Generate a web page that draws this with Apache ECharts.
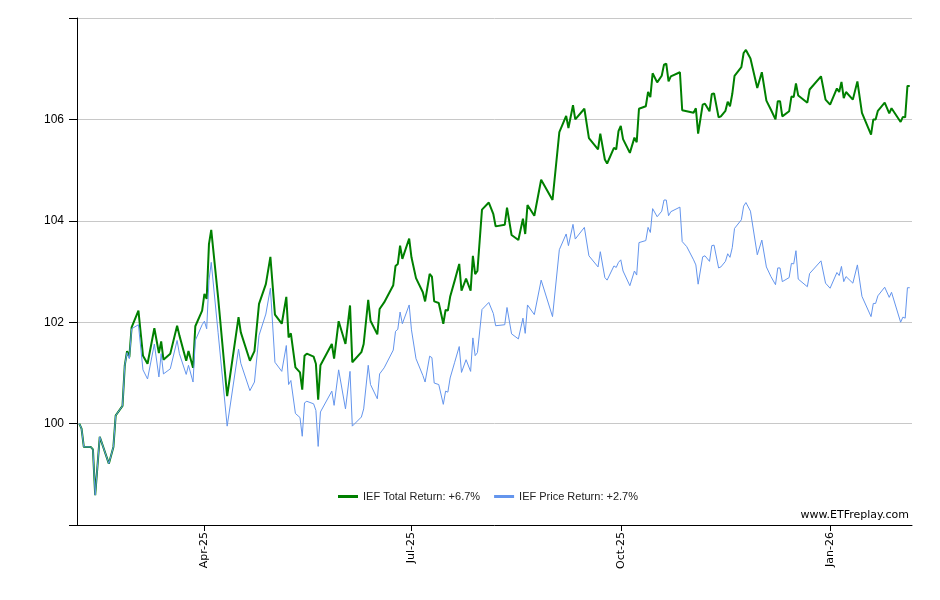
<!DOCTYPE html>
<html>
    <head>
        <meta charset="utf-8">
        <script src="https://cdn.jsdelivr.net/npm/echarts@6/dist/echarts.min.js"></script>
        <title>IEF Total Return vs Price Return</title>
        <style>
            html, body { margin: 0; padding: 0; background: #fff; }
            #main { width: 940px; height: 600px; }
        </style>
    </head>
    <body>
        <div id="main"></div>
        <script type="text/javascript">
            // values (growth of 100)
            var dates = [
                '2025-02-05','2025-02-06','2025-02-07','2025-02-10','2025-02-11','2025-02-12','2025-02-14','2025-02-18','2025-02-20','2025-02-21',
                '2025-02-24','2025-02-25','2025-02-26','2025-02-27','2025-02-28','2025-03-03','2025-03-05','2025-03-07','2025-03-10','2025-03-12',
                '2025-03-13','2025-03-14','2025-03-17','2025-03-20','2025-03-21','2025-03-24','2025-03-25','2025-03-27','2025-03-28','2025-03-31',
                '2025-04-01','2025-04-02','2025-04-03','2025-04-04','2025-04-07','2025-04-11','2025-04-16','2025-04-17','2025-04-21','2025-04-23',
                '2025-04-25','2025-04-28','2025-04-30','2025-05-02','2025-05-05','2025-05-07','2025-05-08','2025-05-09','2025-05-11','2025-05-13',
                '2025-05-14','2025-05-15','2025-05-16','2025-05-19','2025-05-20','2025-05-21','2025-05-22','2025-05-27','2025-05-28','2025-05-30',
                '2025-06-02','2025-06-04','2025-06-05','2025-06-09','2025-06-10','2025-06-12','2025-06-13','2025-06-16','2025-06-17','2025-06-19',
                '2025-06-23','2025-06-24','2025-06-25','2025-06-26','2025-06-27','2025-06-30','2025-07-01','2025-07-03','2025-07-06','2025-07-07',
                '2025-07-09','2025-07-10','2025-07-11','2025-07-13','2025-07-15','2025-07-16','2025-07-17','2025-07-18','2025-07-20','2025-07-22',
                '2025-07-23','2025-07-25','2025-07-27','2025-07-28','2025-07-29','2025-07-30','2025-08-01','2025-08-04','2025-08-06','2025-08-07',
                '2025-08-11','2025-08-12','2025-08-14','2025-08-17','2025-08-19','2025-08-20','2025-08-21','2025-08-24','2025-08-27','2025-09-01',
                '2025-09-04','2025-09-07','2025-09-08','2025-09-10','2025-09-11','2025-09-15','2025-09-17','2025-09-21','2025-09-22','2025-09-24',
                '2025-09-25','2025-09-28','2025-09-29','2025-09-30','2025-10-01','2025-10-02','2025-10-05','2025-10-07','2025-10-08','2025-10-09',
                '2025-10-12','2025-10-13','2025-10-14','2025-10-15','2025-10-17','2025-10-19','2025-10-20','2025-10-21','2025-10-22','2025-10-23',
                '2025-10-27','2025-10-28','2025-10-30','2025-11-02','2025-11-03','2025-11-04','2025-11-06','2025-11-07','2025-11-09','2025-11-10',
                '2025-11-11','2025-11-13','2025-11-14','2025-11-16','2025-11-17','2025-11-18','2025-11-19','2025-11-20','2025-11-23','2025-11-24',
                '2025-11-25','2025-11-27','2025-11-30','2025-12-02','2025-12-04','2025-12-06','2025-12-08','2025-12-09','2025-12-10','2025-12-11',
                '2025-12-14','2025-12-15','2025-12-16','2025-12-17','2025-12-18','2025-12-22','2025-12-23','2025-12-28','2025-12-30','2026-01-01',
                '2026-01-04','2026-01-05','2026-01-06','2026-01-07','2026-01-08','2026-01-11','2026-01-13','2026-01-15','2026-01-19','2026-01-20',
                '2026-01-21','2026-01-22','2026-01-25','2026-01-27','2026-01-28','2026-02-01','2026-02-02','2026-02-03','2026-02-04','2026-02-05'
            ];
            var totalReturn = [
                100.00, 99.90, 99.54, 99.54, 99.49, 98.59, 99.74, 99.21, 99.54, 100.16,
                100.35, 101.15, 101.43, 101.31, 101.90, 102.23, 101.34, 101.18, 101.88, 101.39,
                101.62, 101.26, 101.38, 101.93, 101.74, 101.24, 101.43, 101.10, 101.92, 102.23,
                102.56, 102.46, 103.54, 103.82, 102.50, 100.54, 102.10, 101.80, 101.24, 101.43,
                102.36, 102.75, 103.29, 102.15, 101.97, 102.50, 101.70, 101.78, 101.11, 101.01,
                100.67, 101.34, 101.38, 101.32, 101.18, 100.47, 101.15, 101.57, 101.28, 102.02,
                101.57, 102.33, 101.21, 101.41, 101.57, 102.44, 102.03, 101.76, 102.26, 102.39,
                102.73, 103.11, 103.15, 103.51, 103.25, 103.65, 103.28, 102.87, 102.59, 102.41,
                102.95, 102.90, 102.41, 102.38, 101.97, 102.24, 102.23, 102.50, 102.82, 103.15,
                102.62, 102.86, 102.62, 103.31, 102.95, 103.01, 104.22, 104.36, 104.13, 103.89,
                103.92, 104.26, 103.72, 103.62, 104.04, 103.74, 104.31, 104.10, 104.81, 104.41,
                105.75, 106.07, 105.83, 106.28, 106.00, 106.21, 105.63, 105.41, 105.72, 105.21,
                105.13, 105.44, 105.41, 105.77, 105.87, 105.61, 105.34, 105.64, 105.55, 106.21,
                106.26, 106.54, 106.44, 106.91, 106.73, 106.86, 107.08, 107.10, 106.75, 106.85,
                106.93, 106.18, 106.16, 106.13, 106.22, 105.72, 106.29, 106.31, 106.16, 106.50,
                106.51, 106.04, 106.06, 106.17, 106.35, 106.26, 106.50, 106.86, 107.03, 107.31,
                107.37, 107.20, 106.62, 106.93, 106.37, 106.19, 106.00, 106.36, 106.36, 106.06,
                106.16, 106.45, 106.44, 106.71, 106.47, 106.33, 106.59, 106.85, 106.39, 106.29,
                106.61, 106.54, 106.74, 106.42, 106.54, 106.39, 106.75, 106.13, 105.70, 106.00,
                106.00, 106.17, 106.33, 106.12, 106.22, 105.95, 106.05, 106.04, 106.66, 106.66
            ];
            var priceReturn = [
                100.00, 99.90, 99.54, 99.54, 99.49, 98.59, 99.74, 99.21, 99.54, 100.16,
                100.35, 101.15, 101.40, 101.28, 101.87, 101.95, 101.06, 100.88, 101.57, 100.92,
                101.38, 100.98, 101.08, 101.64, 101.38, 100.97, 101.15, 100.82, 101.64, 101.95,
                102.02, 101.87, 102.82, 103.18, 101.80, 99.95, 101.47, 101.19, 100.65, 100.82,
                101.74, 102.16, 102.67, 101.21, 101.03, 101.54, 100.77, 100.85, 100.20, 100.12,
                99.75, 100.41, 100.44, 100.39, 100.26, 99.55, 100.23, 100.64, 100.36, 101.06,
                100.29, 101.03, 99.95, 100.13, 100.29, 101.15, 100.77, 100.49, 100.98, 101.10,
                101.45, 101.82, 101.86, 102.20, 101.97, 102.34, 101.85, 101.28, 100.95, 100.82,
                101.33, 101.30, 100.80, 100.77, 100.38, 100.64, 100.62, 100.90, 101.21, 101.52,
                101.01, 101.26, 101.03, 101.69, 101.34, 101.40, 102.25, 102.39, 102.17, 101.93,
                101.95, 102.29, 101.77, 101.67, 102.08, 101.78, 102.34, 102.15, 102.83, 102.11,
                103.43, 103.74, 103.51, 103.93, 103.64, 103.87, 103.31, 103.09, 103.39, 102.88,
                102.83, 103.11, 103.08, 103.18, 103.23, 103.01, 102.72, 103.01, 102.93, 103.57,
                103.61, 103.87, 103.77, 104.24, 104.08, 104.19, 104.41, 104.41, 104.10, 104.18,
                104.27, 103.59, 103.49, 103.23, 103.13, 102.75, 103.29, 103.31, 103.20, 103.51,
                103.52, 103.07, 103.09, 103.20, 103.35, 103.28, 103.47, 103.85, 104.02, 104.29,
                104.36, 104.19, 103.33, 103.62, 103.09, 102.90, 102.74, 103.07, 103.07, 102.80,
                102.88, 103.16, 103.15, 103.41, 102.85, 102.70, 102.96, 103.21, 102.77, 102.67,
                102.98, 102.92, 103.10, 102.80, 102.90, 102.77, 103.13, 102.51, 102.11, 102.37,
                102.37, 102.52, 102.69, 102.49, 102.59, 102.00, 102.10, 102.08, 102.68, 102.68
            ];
            var seriesNames = ['IEF Total Return: +6.7%', 'IEF Price Return: +2.7%'];
            var tickDates = ['2025-04-01', '2025-07-01', '2025-10-01', '2026-01-01'];
            var axisStart = '2025-02-04';
            var axisEnd = '2026-02-06';
            var monthNames = ['Jan','Feb','Mar','Apr','May','Jun','Jul','Aug','Sep','Oct','Nov','Dec'];

            function toTime(s) {
                var p = s.split('-');
                return new Date(+p[0], +p[1] - 1, +p[2]).getTime();
            }
            function pairs(values) {
                return dates.map(function (d, i) { return [toTime(d), values[i]]; });
            }
            var tickValues = tickDates.map(toTime);

            var myChart = echarts.init(document.getElementById('main'));
            var option = {
                animation: false,
                backgroundColor: '#fff',
                grid: { left: 77, right: 28, top: 18, bottom: 75 },
                legend: {
                    left: 333,
                    top: 486,
                    icon: 'rect',
                    itemWidth: 20,
                    itemHeight: 3,
                    itemGap: 14,
                    textStyle: { fontFamily: 'Liberation Sans, Arial', fontSize: 11, color: '#222' },
                    data: seriesNames
                },
                graphic: [{
                    type: 'text',
                    right: 31,
                    top: 510,
                    style: { text: 'www.ETFreplay.com', font: '11px "DejaVu Sans"', fill: '#000' }
                }],
                xAxis: {
                    // timestamps on a value axis so the quarter ticks can be placed exactly
                    type: 'value',
                    min: toTime(axisStart),
                    max: toTime(axisEnd),
                    axisLine: { lineStyle: { color: '#000', width: 1 } },
                    axisTick: { show: true, length: 6, customValues: tickValues, lineStyle: { color: '#000' } },
                    axisLabel: {
                        rotate: 90,
                        margin: 7,
                        customValues: tickValues,
                        fontFamily: 'DejaVu Sans',
                        fontSize: 11,
                        color: '#000',
                        formatter: function (v) {
                            var d = new Date(v);
                            return monthNames[d.getMonth()] + '-' + String(d.getFullYear()).slice(2);
                        }
                    },
                    splitLine: { show: false }
                },
                yAxis: {
                    type: 'value',
                    min: 98,
                    max: 108,
                    interval: 2,
                    axisLine: { show: true, lineStyle: { color: '#000', width: 1 } },
                    axisTick: { show: true, length: 8, lineStyle: { color: '#000' } },
                    axisLabel: {
                        margin: 13,
                        fontFamily: 'Liberation Sans, Arial',
                        fontSize: 12,
                        color: '#000',
                        formatter: function (v) { return (v === 98 || v === 108) ? '' : String(v); }
                    },
                    splitLine: { show: true, lineStyle: { color: '#c8c8c8', width: 1 } }
                },
                series: [{
                    name: seriesNames[0],
                    type: 'line',
                    showSymbol: false,
                    color: '#008000',
                    lineStyle: { color: '#008000', width: 2 },
                    data: pairs(totalReturn)
                }, {
                    name: seriesNames[1],
                    type: 'line',
                    showSymbol: false,
                    color: '#6495ed',
                    lineStyle: { color: '#6495ed', width: 1 },
                    data: pairs(priceReturn)
                }]
            };
            myChart.setOption(option);
        </script>
    </body>
</html>
